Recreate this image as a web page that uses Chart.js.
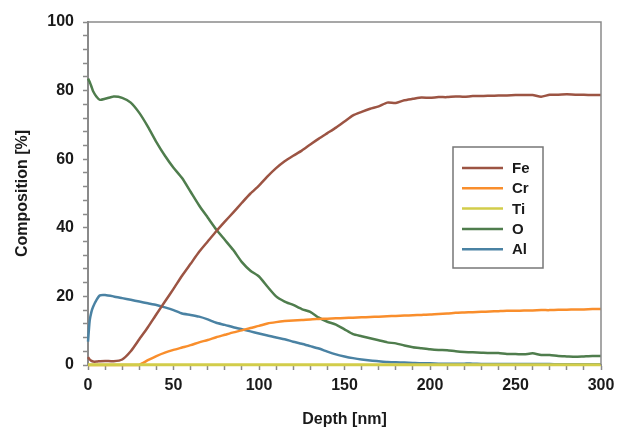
<!DOCTYPE html>
<html lang="en">
<head>
  <meta charset="UTF-8" />
  <title>Composition vs Depth</title>
  <script src="https://cdn.jsdelivr.net/npm/chart.js"></script>
  <style>
    html, body { margin: 0; padding: 0; background: #fff; }
    canvas { display: block; }
  </style>
</head>
<body>
  <canvas id="chartPerfil" width="617" height="429"></canvas>

  <script>
    // Depth in nm (finer steps near the surface)
    const depth = [0, 1, 2, 3, 5, 7, 10, 15, 20, 25, 30, 35, 40, 45, 50, 55, 60, 65, 70, 75,
      80, 85, 90, 95, 100, 105, 110, 115, 120, 125, 130, 135, 140, 145, 150, 155, 160, 165, 170, 175,
      180, 185, 190, 195, 200, 205, 210, 215, 220, 225, 230, 235, 240, 245, 250, 255, 260, 265, 270, 275,
      280, 285, 290, 295, 300];

    const fe = [2.3, 1.6, 1.2, 1.0, 1.0, 1.1, 1.2, 1.1, 1.6, 4.0, 7.5, 11.0, 14.8, 18.5, 22.2, 26.0, 29.5, 33.0, 36.0, 39.0,
      41.8, 44.5, 47.3, 50.0, 52.3, 55.0, 57.4, 59.4, 61.0, 62.5, 64.3, 66.0, 67.6, 69.2, 71.0, 72.8, 73.8, 74.7, 75.4, 76.5,
      76.4, 77.2, 77.6, 78.0, 77.9, 78.1, 78.1, 78.3, 78.2, 78.4, 78.4, 78.5, 78.6, 78.6, 78.7, 78.7, 78.7, 78.2, 78.8, 78.8,
      78.9, 78.8, 78.8, 78.7, 78.7];

    const cr = [0, 0, 0, 0, 0, 0, 0, 0, 0, 0, 0.1, 1.4, 2.6, 3.6, 4.4, 5.1, 5.8, 6.6, 7.3, 8.1,
      8.8, 9.5, 10.1, 10.8, 11.4, 12.1, 12.5, 12.8, 13.0, 13.1, 13.3, 13.4, 13.5, 13.6, 13.7, 13.8, 13.9, 14.0, 14.1, 14.2,
      14.3, 14.4, 14.5, 14.6, 14.7, 14.9, 15.0, 15.2, 15.3, 15.4, 15.5, 15.6, 15.7, 15.8, 15.8, 15.9, 15.9, 16.0, 16.0, 16.1,
      16.1, 16.2, 16.2, 16.3, 16.3];

    const ti = [0.1, 0.1, 0.1, 0.1, 0.1, 0.1, 0.1, 0.1, 0.1, 0.1, 0.1, 0.1, 0.1, 0.1, 0.1, 0.1, 0.1, 0.1, 0.1, 0.1,
      0.1, 0.1, 0.1, 0.1, 0.1, 0.1, 0.1, 0.1, 0.1, 0.1, 0.1, 0.1, 0.1, 0.1, 0.1, 0.1, 0.1, 0.1, 0.1, 0.1,
      0.1, 0.1, 0.1, 0.1, 0.1, 0.1, 0.1, 0.1, 0.1, 0.1, 0.1, 0.1, 0.1, 0.1, 0.1, 0.1, 0.1, 0.1, 0.1, 0.1,
      0.1, 0.1, 0.1, 0.1, 0.1];

    const oxi = [83.5, 82.5, 81.2, 79.8, 78.2, 77.3, 77.6, 78.3, 77.9, 76.5, 73.5, 69.5, 65.0, 61.0, 57.5, 54.5, 50.5, 46.5, 43.0, 39.5,
      36.5, 33.5, 30.0, 27.5, 25.8, 22.8, 20.0, 18.5, 17.5, 16.3, 15.5, 13.8, 12.6, 11.8, 10.4, 9.0, 8.4, 7.8, 7.2, 6.6,
      6.3, 5.7, 5.2, 4.9, 4.6, 4.4, 4.3, 4.0, 3.8, 3.7, 3.6, 3.5, 3.5, 3.2, 3.2, 3.1, 3.4, 2.9, 2.9, 2.6,
      2.5, 2.4, 2.5, 2.6, 2.6];

    const al = [6.8, 13.0, 15.5, 17.0, 19.0, 20.3, 20.4, 20.0, 19.5, 19.0, 18.5, 18.0, 17.5, 16.8, 16.0, 15.0, 14.6, 14.1, 13.3, 12.3,
      11.7, 11.0, 10.4, 9.8, 9.2, 8.6, 8.0, 7.5, 6.8, 6.2, 5.5, 4.8, 3.9, 3.1, 2.5, 2.0, 1.6, 1.3, 1.1, 0.9,
      0.8, 0.7, 0.6, 0.5, 0.5, 0.4, 0.4, 0.4, 0.4, 0.4, 0.3, 0.3, 0.3, 0.3, 0.3, 0.3, 0.3, 0.3, 0.3, 0.2,
      0.2, 0.2, 0.2, 0.2, 0.2];

    const series = ['Fe', 'Cr', 'Ti', 'O', 'Al'];
    const colores = ['#9c5443', '#f98e2c', '#d2cd4a', '#4f7d4d', '#4a82a3'];
    const valores = [fe, cr, ti, oxi, al];

    const fuente = "'Liberation Sans', Arial, sans-serif";
    const grisEje = '#8a8a8a';

    // Frame (top and right) plus the boxed legend
    const marcoYLeyenda = {
      id: 'marcoYLeyenda',
      afterDatasetsDraw(chart) {
        const { ctx, chartArea } = chart;
        ctx.save();
        ctx.strokeStyle = grisEje;
        ctx.lineWidth = 1.5;
        ctx.beginPath();
        ctx.moveTo(chartArea.left, chartArea.top);
        ctx.lineTo(chartArea.right, chartArea.top);
        ctx.lineTo(chartArea.right, chartArea.bottom);
        ctx.stroke();

        // legend
        const bx = 453, by = 147, bw = 90, bh = 121;
        ctx.fillStyle = '#ffffff';
        ctx.fillRect(bx, by, bw, bh);
        ctx.strokeStyle = '#777777';
        ctx.lineWidth = 1.5;
        ctx.strokeRect(bx, by, bw, bh);
        ctx.font = 'bold 15px ' + fuente;
        ctx.textBaseline = 'middle';
        chart.data.datasets.forEach((ds, i) => {
          const y = 168 + i * 20.3;
          ctx.strokeStyle = ds.borderColor;
          ctx.lineWidth = 2.5;
          ctx.beginPath();
          ctx.moveTo(462, y);
          ctx.lineTo(503, y);
          ctx.stroke();
          ctx.fillStyle = '#1a1a1a';
          ctx.fillText(ds.label, 512, y + 1);
        });
        ctx.restore();
      }
    };

    const ctx = document.getElementById('chartPerfil').getContext('2d');
    new Chart(ctx, {
      type: 'line',
      data: {
        datasets: series.map((nombre, i) => ({
          label: nombre,
          data: depth.map((d, k) => ({ x: d, y: valores[i][k] })),
          borderColor: colores[i],
          backgroundColor: colores[i],
          borderWidth: nombre === 'Ti' ? 3 : 2.5,
          pointRadius: 0,
          tension: 0.2,
          clip: false,
          order: nombre === 'Ti' ? 0 : 1
        }))
      },
      options: {
        responsive: false,
        animation: false,
        layout: { padding: { top: 22, right: 16, left: 0, bottom: 0 } },
        plugins: {
          legend: { display: false },
          tooltip: { enabled: false }
        },
        scales: {
          x: {
            type: 'linear',
            min: 0,
            max: 300,
            afterFit(scale) { scale.height = 64; scale.paddingRight = 0; },
            grid: { drawOnChartArea: false, drawTicks: true, tickLength: 5, color: grisEje, tickWidth: 1.5 },
            border: { color: grisEje, width: 2 },
            ticks: {
              stepSize: 10,
              autoSkip: false,
              maxRotation: 0,
              padding: 6,
              color: '#1a1a1a',
              font: { family: fuente, size: 16, weight: 'bold' },
              callback: v => (v % 50 === 0 ? v : '')
            },
            title: {
              display: true,
              text: 'Depth [nm]',
              color: '#1a1a1a',
              font: { family: fuente, size: 16, weight: 'bold' },
              padding: { top: 0, bottom: 0 }
            }
          },
          y: {
            min: 0,
            max: 100,
            afterFit(scale) { scale.width = 88; },
            grid: { drawOnChartArea: false, drawTicks: true, tickLength: 5, color: grisEje, tickWidth: 1.5 },
            border: { color: grisEje, width: 2 },
            ticks: {
              stepSize: 4,
              autoSkip: false,
              padding: 9,
              color: '#1a1a1a',
              font: { family: fuente, size: 16, weight: 'bold' },
              callback: v => (v % 20 === 0 ? v : '')
            },
            title: {
              display: true,
              text: 'Composition [%]',
              color: '#1a1a1a',
              font: { family: fuente, size: 16, weight: 'bold' },
              padding: { top: 13, bottom: 0 }
            }
          }
        }
      },
      plugins: [marcoYLeyenda]
    });
  </script>
</body>
</html>
